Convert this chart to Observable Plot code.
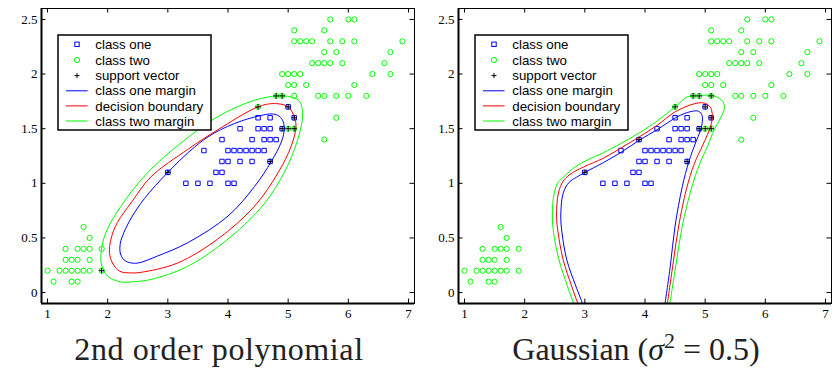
<!DOCTYPE html>
<html>
<head>
<meta charset="utf-8">
<script src="https://cdn.jsdelivr.net/npm/d3@7"></script>
<script src="https://cdn.jsdelivr.net/npm/@observablehq/plot@0.6"></script>
<style>
  html, body { margin: 0; padding: 0; background: #fff; }
  #wrap { position: relative; width: 836px; height: 369px; overflow: hidden; background: #fff; }
  .panel { position: absolute; top: 0; }
  #overlay { position: absolute; left: 0; top: 0; pointer-events: none; }
</style>
</head>
<body>
<div id="wrap">
  <div id="left" class="panel" style="left:0px"></div>
  <div id="right" class="panel" style="left:417px"></div>
  <svg id="overlay" width="836" height="369"></svg>
</div>
<script>
// ---- tick labels ----
const xTicks = [1, 2, 3, 4, 5, 6, 7];
const yTicks = [0, 0.5, 1, 1.5, 2, 2.5];

// ---- titles & legend text ----
const panelTitles = ["2nd order polynomial", "Gaussian"];
const legendLabels = ["class one", "class two", "support vector", "class one margin", "decision boundary", "class two margin"];

// ---- class one points (petal length, petal width) ----
const classOne = [
  [3.0,1.1],[3.3,1.0],[3.5,1.0],[3.6,1.3],[3.7,1.0],[3.8,1.1],[3.9,1.1],[3.9,1.2],[3.9,1.4],
  [4.0,1.0],[4.0,1.2],[4.0,1.3],[4.1,1.0],[4.1,1.3],[4.2,1.2],[4.2,1.3],[4.2,1.5],[4.3,1.3],
  [4.4,1.2],[4.4,1.3],[4.4,1.4],[4.5,1.3],[4.5,1.5],[4.5,1.6],[4.6,1.3],[4.6,1.4],[4.6,1.5],
  [4.7,1.2],[4.7,1.4],[4.7,1.5],[4.7,1.6],[4.8,1.4],[4.9,1.5],[5.0,1.7],[5.1,1.6]
];

// ---- class two points ----
const classTwo = [
  [1.0,0.2],[1.1,0.1],[1.2,0.2],[1.3,0.2],[1.3,0.3],[1.3,0.4],[1.4,0.1],[1.4,0.2],[1.4,0.3],
  [1.5,0.1],[1.5,0.2],[1.5,0.3],[1.5,0.4],[1.6,0.2],[1.6,0.4],[1.6,0.6],[1.7,0.2],[1.7,0.3],
  [1.7,0.4],[1.7,0.5],[1.9,0.2],[1.9,0.4],
  [4.5,1.7],[4.8,1.8],[4.9,1.8],[4.9,2.0],[5.0,1.5],[5.0,1.9],[5.0,2.0],[5.1,1.5],[5.1,1.8],
  [5.1,1.9],[5.1,2.0],[5.1,2.3],[5.1,2.4],[5.2,2.0],[5.2,2.3],[5.3,1.9],[5.3,2.3],[5.4,2.1],
  [5.4,2.3],[5.5,1.8],[5.5,2.1],[5.6,1.4],[5.6,1.8],[5.6,2.1],[5.6,2.2],[5.6,2.4],[5.7,2.1],
  [5.7,2.3],[5.7,2.5],[5.8,1.6],[5.8,1.8],[5.8,2.2],[5.9,2.1],[5.9,2.3],[6.0,1.8],[6.0,2.5],
  [6.1,1.9],[6.1,2.3],[6.1,2.5],[6.3,1.8],[6.4,2.0],[6.6,2.1],[6.7,2.0],[6.7,2.2],[6.9,2.3]
];

// ---- support vectors ----
const svPoly = [[3.0,1.1],[4.5,1.7],[4.8,1.8],[4.9,1.8],[5.0,1.7],[5.1,1.6],[4.9,1.5],[5.0,1.5],[5.1,1.5],[4.7,1.2],[1.9,0.2]];
const svGauss = [[3.0,1.1],[3.9,1.4],[4.5,1.7],[4.8,1.8],[4.9,1.8],[5.1,1.8],[5.0,1.7],[5.1,1.6],[4.9,1.5],[5.0,1.5],[5.1,1.5],[4.7,1.2]];

// ---- polynomial kernel contours (closed) ----
const polyOneMargin = [
  [2.21,0.45],[2.21,0.36],[2.27,0.30],[2.36,0.275],[2.50,0.27],[2.83,0.335],[3.33,0.456],[4.00,0.70],
  [4.44,0.97],[4.72,1.20],[4.88,1.37],[4.93,1.47],[4.92,1.56],[4.85,1.615],[4.74,1.635],[4.63,1.63],
  [4.22,1.57],[3.77,1.46],[3.44,1.33],[3.00,1.10],[2.61,0.86],[2.40,0.69],[2.27,0.55]
];
const polyBoundary = [
  [2.03,0.365],[2.08,0.27],[2.20,0.195],[2.39,0.18],[2.55,0.185],[3.16,0.27],[3.83,0.49],[4.44,0.79],
  [4.83,1.095],[5.05,1.34],[5.13,1.52],[5.10,1.61],[5.00,1.70],[4.77,1.73],[4.50,1.70],[3.83,1.49],
  [3.33,1.31],[2.72,1.06],[2.40,0.83],[2.16,0.64],[2.06,0.50]
];
const polyTwoMargin = [
  [1.89,0.365],[1.90,0.25],[2.00,0.15],[2.22,0.097],[2.45,0.10],[2.72,0.12],[3.33,0.24],[4.00,0.49],
  [4.60,0.81],[4.99,1.16],[5.19,1.46],[5.24,1.63],[5.19,1.75],[5.05,1.79],[4.83,1.80],[4.44,1.76],
  [3.83,1.61],[3.22,1.37],[2.66,1.095],[2.22,0.79],[1.97,0.55]
];

// ---- Gaussian kernel contours (open, leave the frame at the bottom) ----
const gaussOneMargin = [
  [2.97,-0.11],[2.85,0.06],[2.70,0.30],[2.62,0.55],[2.60,0.70],[2.64,0.91],[2.74,1.01],[2.86,1.055],
  [3.00,1.10],[3.31,1.19],[3.62,1.29],[3.92,1.40],[4.20,1.49],[4.54,1.61],[4.75,1.655],[4.89,1.66],
  [4.95,1.62],[4.95,1.55],[4.92,1.48],[4.84,1.37],[4.73,1.20],[4.62,0.97],[4.50,0.61],[4.42,0.24],[4.33,-0.11]
];
const gaussBoundary = [
  [2.89,-0.11],[2.78,0.06],[2.64,0.30],[2.555,0.55],[2.53,0.70],[2.56,0.91],[2.64,1.02],[2.75,1.08],
  [2.98,1.15],[3.31,1.23],[3.62,1.33],[3.92,1.43],[4.20,1.53],[4.49,1.65],[4.80,1.725],[4.98,1.735],
  [5.08,1.70],[5.12,1.62],[5.09,1.52],[4.96,1.35],[4.82,1.18],[4.69,0.95],[4.56,0.61],[4.46,0.24],[4.37,-0.11]
];
const gaussTwoMargin = [
  [2.82,-0.11],[2.71,0.06],[2.57,0.30],[2.48,0.55],[2.46,0.70],[2.49,0.91],[2.56,1.01],[2.66,1.065],
  [2.84,1.15],[3.05,1.216],[3.31,1.28],[3.90,1.46],[4.20,1.57],[4.50,1.70],[4.70,1.79],[4.82,1.80],
  [5.15,1.80],[5.29,1.75],[5.32,1.69],[5.24,1.58],[5.15,1.49],[5.04,1.34],[4.91,1.18],[4.77,0.95],
  [4.62,0.61],[4.51,0.24],[4.41,-0.11]
];

// ---- styling ----
const BLUE = "#0000ff", RED = "#ff0000", GREEN = "#00ff00";
const xDomain = [0.9, 7.1], yDomain = [-0.1, 2.6];

function panel({width, marginLeft, marginRight, sv, one, bnd, two, closed}) {
  const height = 325, marginTop = 8, marginBottom = 22;
  const innerW = width - marginLeft - marginRight;
  const innerH = height - marginTop - marginBottom;
  const curve = closed ? "catmull-rom-closed" : "catmull-rom";
  const lineOpts = (stroke) => ({x: d => d[0], y: d => d[1], stroke, strokeWidth: 1, curve, clip: true});
  return Plot.plot({
    width, height, marginLeft, marginRight, marginTop, marginBottom,
    style: {fontFamily: "'Liberation Serif', 'Times New Roman', serif", fontSize: "13px", background: "white", color: "black"},
    x: {domain: xDomain},
    y: {domain: yDomain},
    marks: [
      Plot.dot(classOne, {x: d => d[0], y: d => d[1], symbol: "square", r: 2.5, stroke: BLUE, strokeWidth: 1, fill: "none"}),
      Plot.dot(classTwo, {x: d => d[0], y: d => d[1], symbol: "circle", r: 2.6, stroke: GREEN, strokeWidth: 1, fill: "none"}),
      Plot.line(one, lineOpts(BLUE)),
      Plot.line(bnd, lineOpts(RED)),
      Plot.line(two, lineOpts(GREEN)),
      Plot.dot(sv, {x: d => d[0], y: d => d[1], symbol: "plus", r: 1.9, stroke: "black", strokeWidth: 1}),
      // inward ticks on all four sides
      Plot.tickX(xTicks, {x: d => d, insetTop: innerH - 4.5, stroke: "black", strokeWidth: 1}),
      Plot.tickX(xTicks, {x: d => d, insetBottom: innerH - 4.5, stroke: "black", strokeWidth: 1}),
      Plot.tickY(yTicks, {y: d => d, insetRight: innerW - 4.5, stroke: "black", strokeWidth: 1}),
      Plot.tickY(yTicks, {y: d => d, insetLeft: innerW - 4.5, stroke: "black", strokeWidth: 1}),
      Plot.frame({stroke: "black", strokeWidth: 1}),
      Plot.ruleY([yDomain[0]], {stroke: "black", strokeWidth: 2}),
      Plot.ruleX([xDomain[0]], {stroke: "black", strokeWidth: 2}),
      Plot.axisX({ticks: xTicks, tickSize: 0, tickPadding: 5, label: null, tickFormat: d => String(d), fontSize: 13}),
      Plot.axisY({ticks: yTicks, tickSize: 0, tickPadding: 4, label: null, tickFormat: d => String(d), fontSize: 13})
    ]
  });
}

document.getElementById("left").appendChild(panel({
  width: 418, marginLeft: 41, marginRight: 4, sv: svPoly,
  one: polyOneMargin, bnd: polyBoundary, two: polyTwoMargin, closed: true
}));
document.getElementById("right").appendChild(panel({
  width: 419, marginLeft: 41, marginRight: 5, sv: svGauss,
  one: gaussOneMargin, bnd: gaussBoundary, two: gaussTwoMargin, closed: false
}));

// ---- legends and titles (overlay) ----
const NS = "http://www.w3.org/2000/svg";
const ov = document.getElementById("overlay");
function el(tag, attrs, parent) {
  const e = document.createElementNS(NS, tag);
  for (const k in attrs) e.setAttribute(k, attrs[k]);
  (parent || ov).appendChild(e);
  return e;
}
const rowY = [44.3, 60, 75.6, 90.8, 105.9, 121];
function legend(x0) {
  const g = el("g", {});
  el("rect", {x: x0, y: 35, width: 153, height: 95, fill: "white", stroke: "black", "stroke-width": 1.5}, g);
  const mx = x0 + 19;
  const s = 4.4;
  el("rect", {x: mx - s/2, y: rowY[0] - s/2, width: s, height: s, fill: "none", stroke: BLUE, "stroke-width": 1}, g);
  el("circle", {cx: mx, cy: rowY[1], r: 2.6, fill: "none", stroke: GREEN, "stroke-width": 1}, g);
  el("path", {d: `M${mx-2.5},${rowY[2]}H${mx+2.5}M${mx},${rowY[2]-2.5}V${rowY[2]+2.5}`, stroke: "black", "stroke-width": 1}, g);
  [BLUE, RED, GREEN].forEach((c, i) => {
    el("line", {x1: x0 + 8, x2: x0 + 29.6, y1: rowY[3+i], y2: rowY[3+i], stroke: c, "stroke-width": 1}, g);
  });
  legendLabels.forEach((t, i) => {
    const tx = el("text", {x: x0 + 37.3, y: rowY[i] + 4.6, "font-family": "'Liberation Sans', Arial, sans-serif", "font-size": "13.3px", fill: "black"}, g);
    tx.textContent = t;
  });
}
legend(58);
legend(475);

const titleFont = {"font-family": "'Liberation Serif', 'Times New Roman', serif", "font-size": "32px", fill: "#222", "text-anchor": "middle"};
const t1 = el("text", Object.assign({x: 219, y: 360, "letter-spacing": "0.6px"}, titleFont));
t1.textContent = panelTitles[0];
const t2 = el("text", Object.assign({x: 636, y: 360}, titleFont));
const a = el("tspan", {}, t2); a.textContent = panelTitles[1] + " (";
const b = el("tspan", {"font-style": "italic"}, t2); b.textContent = "σ";
const c = el("tspan", {dy: -12, "font-size": "22px"}, t2); c.textContent = "2";
const d = el("tspan", {dy: 12}, t2); d.textContent = " = 0.5)";
</script>
</body>
</html>
